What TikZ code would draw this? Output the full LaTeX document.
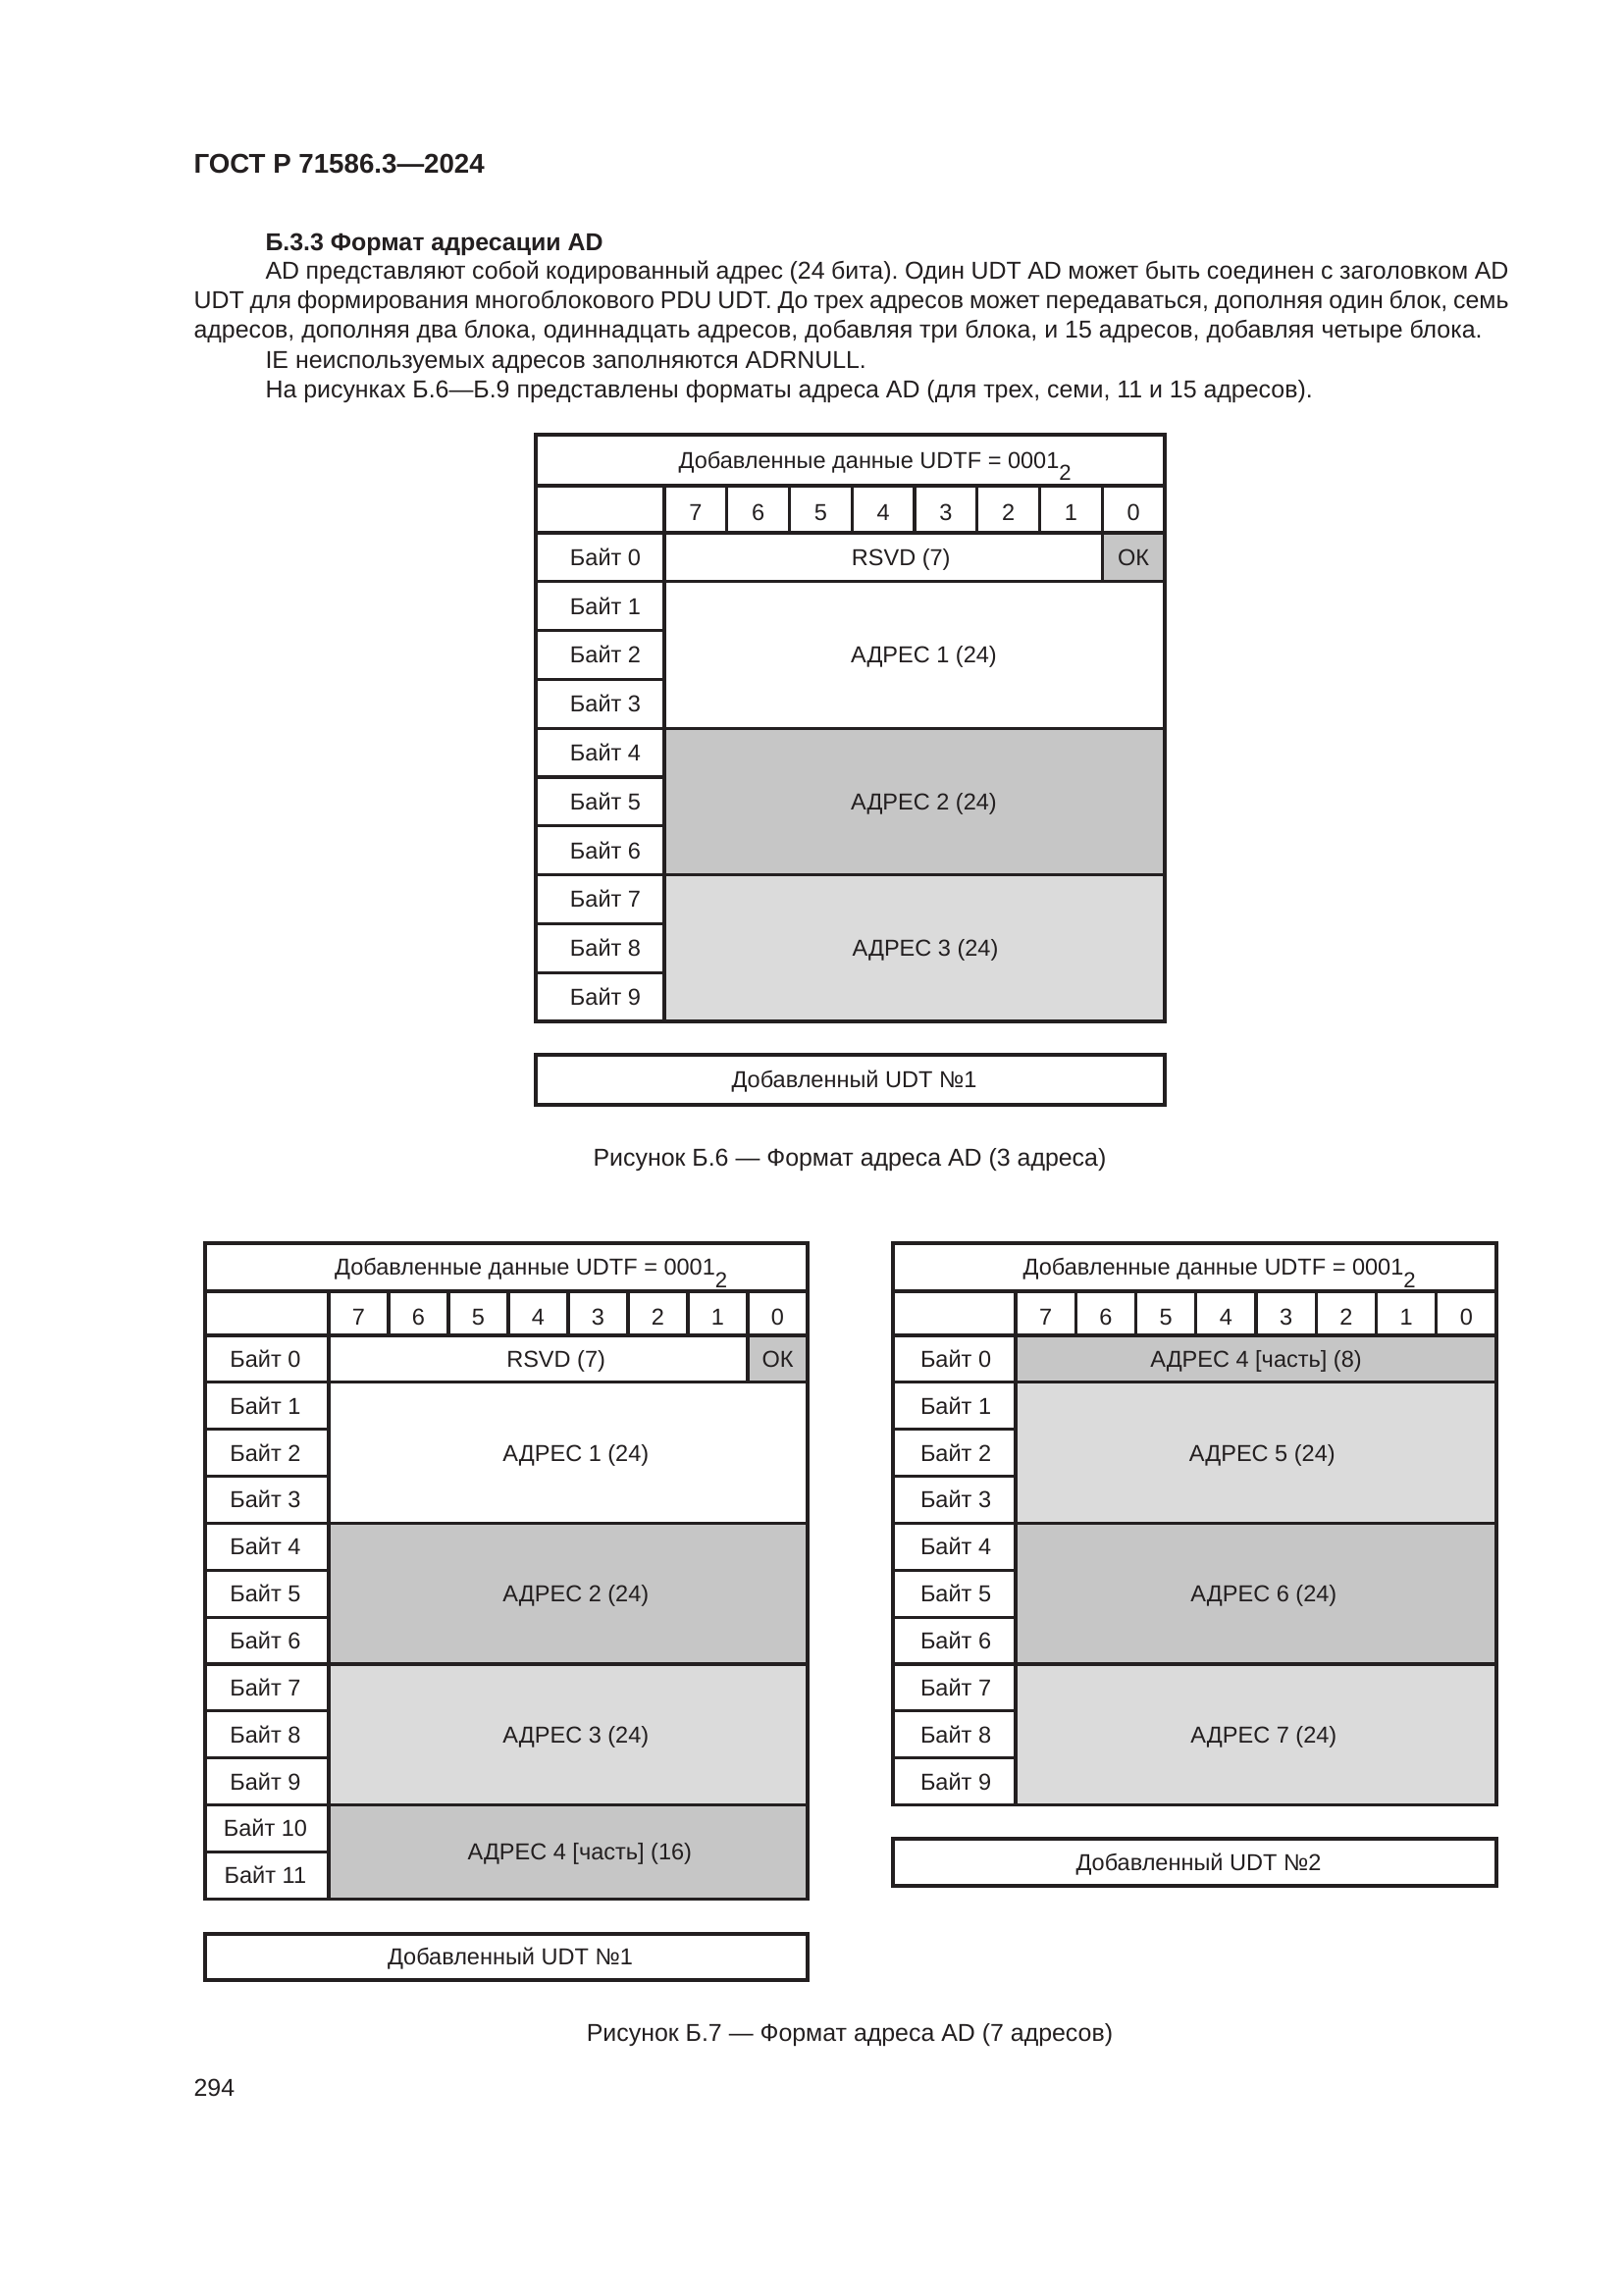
\documentclass[tikz,border=0pt]{standalone}
\usepackage{fontspec}
\setmainfont{Liberation Sans}
\usepackage{tikz}
\usetikzlibrary{positioning,fit,calc}
\definecolor{ink}{HTML}{231F20}
\definecolor{graydk}{HTML}{C6C6C6}
\definecolor{graylt}{HTML}{DBDBDB}
\tikzset{
  fld/.style={rectangle,draw=ink,line width=1.15pt,fill=white,inner sep=0pt,outer sep=0pt},
  flddk/.style={fld,fill=graydk},
  fldlt/.style={fld,fill=graylt},
  tbltxt/.style={inner sep=0pt,font=\fontsize{8.5}{10}\selectfont,text=ink,
    text height=6.1pt,text depth=0pt},
  txt/.style 2 args={label={[tbltxt,xshift=#1]center:{#2}}},
  body/.style={inner sep=0pt,font=\fontsize{9}{11}\selectfont,text=ink},
  hbold/.style={inner sep=0pt,font=\fontsize{10}{12}\selectfont\bfseries,text=ink},
}
\newcommand{\fieldbox}[8]{\node[#2,fit={({#3},{#4})({#5},{#6})},txt={#7}{#8}] (#1) {};}
\frenchspacing

\begin{document}
\begin{tikzpicture}[x=0.12697mm,y=-0.12697mm]
  \fill[white] (0,0) rectangle (1654,2339);
  % page text
  \node[hbold,anchor=base west] (title) at (197,177) {ГОСТ Р 71586.3—2024};
  \node[body,font=\fontsize{9}{11}\selectfont\bfseries,anchor=base west] (sect) at (270,255) {Б.3.3 Формат адресации AD};
  \node[body,anchor=base west] (par1) at (270,284) {\hbox to 457.7pt{AD представляют собой кодированный адрес (24 бита). Один UDT AD может быть соединен с заголовком AD}};
  \node[body,anchor=base west] (par2) at (197,314.4) {\hbox to 484.1pt{UDT для формирования многоблокового PDU UDT. До трех адресов может передаваться, дополняя один блок, семь}};
  \node[body,anchor=base west] (par3) at (197,344.8) {адресов, дополняя два блока, одиннадцать адресов, добавляя три блока, и 15 адресов, добавляя четыре блока.};
  \node[body,anchor=base west] (par4) at (270,375.2) {IE неиспользуемых адресов заполняются ADRNULL.};
  \node[body,anchor=base west] (par5) at (270,405.6) {На рисунках Б.6—Б.9 представлены форматы адреса AD (для трех, семи, 11 и 15 адресов).};
  \node[body,anchor=base west] (pgnum) at (197,2136) {294};

  % header, bit row and byte column of each table
  \foreach \t/\L/\D/\R/\T/\H/\B/\rh/\n/\bs in {a/546/677/1187/443/495/543/49.8/9/0.7mm,
      b/209/335/823/1267/1316/1361/47.85/11/-0.2mm,c/910/1035/1525/1267/1316/1361/47.85/9/0.2mm}{
    \fieldbox{\t-hdr}{fld}{\L}{\T}{\R}{\H}{3.2mm}{Добавленные данные UDTF = 0001\raisebox{-4.5pt}{\fontsize{8}{9}\selectfont 2}}
    \fieldbox{\t-corner}{fld}{\L}{\H}{\D}{\B}{0mm}{}
    \foreach \bit [count=\k from 0] in {7,...,0}{
      \fieldbox{\t-bit\bit}{fld}{\D+\k*(\R-\D)/8}{\H}{\D+(\k+1)*(\R-\D)/8}{\B}{0mm}{\raisebox{-1.2pt}{\bit}}
    }
    \foreach \i in {0,...,\n}{
      \fieldbox{\t-b\i}{fld}{\L}{\B+\i*\rh}{\D}{\B+(\i+1)*\rh}{\bs}{Байт \i}
    }
  }

  % Б.6
  \node[fld,fit={(a-b0.north east)(a-bit1.east |- a-b0.south)},txt={2.3mm}{RSVD (7)}] (a-rsvd) {};
  \node[flddk,fit={(a-bit0.west |- a-b0.north)(a-bit0.east |- a-b0.south)},txt={0mm}{ОК}] (a-ok) {};
  \node[fld,fit={(a-b1.north east)(a-bit0.east |- a-b3.south)},txt={1.2mm}{АДРЕС 1 (24)}] (a-adr1) {};
  \node[flddk,fit={(a-b4.north east)(a-bit0.east |- a-b6.south)},txt={1.2mm}{АДРЕС 2 (24)}] (a-adr2) {};
  \node[fldlt,fit={(a-b7.north east)(a-bit0.east |- a-b9.south)},txt={1.4mm}{АДРЕС 3 (24)}] (a-adr3) {};
  \fieldbox{a-udt}{fld}{546}{1075}{1187}{1126}{0.5mm}{Добавленный UDT №1}
  \node[body,anchor=base] (a-cap) at (866,1188) {Рисунок Б.6 — Формат адреса AD (3 адреса)};

  % Б.7, block 1
  \node[fld,fit={(b-b0.north east)(b-bit1.east |- b-b0.south)},txt={2.3mm}{RSVD (7)}] (b-rsvd) {};
  \node[flddk,fit={(b-bit0.west |- b-b0.north)(b-bit0.east |- b-b0.south)},txt={0mm}{ОК}] (b-ok) {};
  \node[fld,fit={(b-b1.north east)(b-bit0.east |- b-b3.south)},txt={1.0mm}{АДРЕС 1 (24)}] (b-adr1) {};
  \node[flddk,fit={(b-b4.north east)(b-bit0.east |- b-b6.south)},txt={1.0mm}{АДРЕС 2 (24)}] (b-adr2) {};
  \node[fldlt,fit={(b-b7.north east)(b-bit0.east |- b-b9.south)},txt={1.0mm}{АДРЕС 3 (24)}] (b-adr3) {};
  \node[flddk,fit={(b-b10.north east)(b-bit0.east |- b-b11.south)},txt={1.5mm}{АДРЕС 4 [часть] (16)}] (b-adr4) {};
  \fieldbox{b-udt}{fld}{209}{1971}{823}{2018}{0.5mm}{Добавленный UDT №1}

  % Б.7, block 2
  \node[flddk,fit={(c-b0.north east)(c-bit0.east |- c-b0.south)},txt={0mm}{АДРЕС 4 [часть] (8)}] (c-adr4) {};
  \node[fldlt,fit={(c-b1.north east)(c-bit0.east |- c-b3.south)},txt={0.8mm}{АДРЕС 5 (24)}] (c-adr5) {};
  \node[flddk,fit={(c-b4.north east)(c-bit0.east |- c-b6.south)},txt={1mm}{АДРЕС 6 (24)}] (c-adr6) {};
  \node[fldlt,fit={(c-b7.north east)(c-bit0.east |- c-b9.south)},txt={1mm}{АДРЕС 7 (24)}] (c-adr7) {};
  \fieldbox{c-udt}{fld}{910}{1874}{1525}{1922}{0.5mm}{Добавленный UDT №2}
  \node[body,anchor=base] (b-cap) at (866,2080) {Рисунок Б.7 — Формат адреса AD (7 адресов)};
\end{tikzpicture}
\end{document}
